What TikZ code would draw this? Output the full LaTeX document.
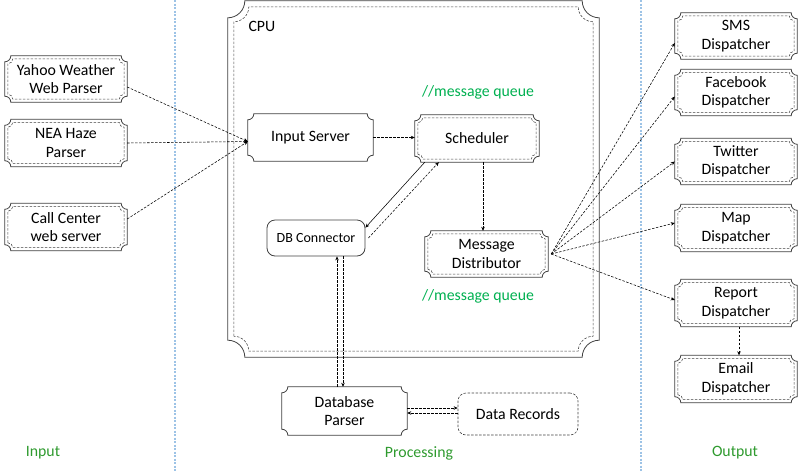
\documentclass[tikz,border=0pt]{standalone}
\usepackage{fontspec}
\setmainfont{Carlito}
\usetikzlibrary{calc,arrows.meta}
\definecolor{boxline}{HTML}{404040}
\definecolor{lblue}{HTML}{9DC3E6}
\definecolor{mqgreen}{HTML}{00B050}
\definecolor{lgreen}{HTML}{2E9A2E}
\newcommand\plaq[4]{%
 \draw[#4] ($(#1.south west)+(#2pt,#2pt+#3pt)$)
   -- ($(#1.north west)+(#2pt,-#2pt-#3pt)$) arc[start angle=270,end angle=360,radius=#3pt]
   -- ($(#1.north east)+(-#2pt-#3pt,-#2pt)$) arc[start angle=180,end angle=270,radius=#3pt]
   -- ($(#1.south east)+(-#2pt,#2pt+#3pt)$) arc[start angle=90,end angle=180,radius=#3pt]
   -- ($(#1.south west)+(#2pt+#3pt,#2pt)$) arc[start angle=0,end angle=90,radius=#3pt]
   -- cycle;}
\tikzset{
 box/.style={inner sep=0pt, align=center, font=\fontsize{15.8}{18.5}\selectfont, minimum width=122pt, minimum height=46pt},
 outerline/.style={draw=boxline, line width=0.8pt},
 innerline/.style={draw=boxline, line width=0.55pt, dash pattern=on 2.5pt off 1.5pt},
 conn/.style={line width=0.55pt, dash pattern=on 2.5pt off 1.5pt, -{Stealth[length=4pt,width=3.5pt]}},
 solidconn/.style={line width=0.55pt, -{Stealth[length=4pt,width=3.5pt]}},
 sep/.style={draw=lblue, line width=1.2pt, dash pattern=on 2pt off 1.5pt},
 lbl/.style={font=\fontsize{15.8}{18.5}\selectfont, text=lgreen},
 mq/.style={font=\fontsize{15.8}{18.5}\selectfont, text=mqgreen},
}
\begin{document}
\begin{tikzpicture}[x=1pt,y=-1pt]
\useasboundingbox (0,0) rectangle (800,472);
% separators
\coordinate (s1t) at (175,0); \coordinate (s1b) at (175,472);
\coordinate (s2t) at (641,0); \coordinate (s2b) at (641,472);
\draw[sep] (s1t) -- (s1b);
\draw[sep] (s2t) -- (s2b);
% CPU
\node[box, minimum width=371pt, minimum height=356pt] (cpu) at (413.5,179) {};
\plaq{cpu}{0}{17}{outerline}
\plaq{cpu}{6}{15}{innerline}
\node[anchor=west, font=\fontsize{15.8}{18.5}\selectfont] (cpulbl) at (245,26) {CPU};
% input side
\node[box] (yahoo) at (66,79) {Yahoo Weather\\Web Parser};
\node[box, minimum height=47pt] (nea) at (66,143) {NEA Haze\\Parser};
\node[box, minimum height=47pt] (call) at (66,227) {Call Center\\web server};
\foreach \n in {yahoo,nea,call} {\plaq{\n}{0}{6}{outerline}\plaq{\n}{3}{5}{innerline}}
% processing
\node[box, minimum width=125pt, minimum height=47pt] (inp) at (310.5,137.5) {Input Server};
\plaq{inp}{0}{6}{outerline}
\node[box, minimum width=124pt, minimum height=47pt] (sched) at (477,138.5) {Scheduler};
\plaq{sched}{0}{6}{outerline}\plaq{sched}{3}{5}{innerline}
\node[box, minimum width=98pt, minimum height=36pt, draw=boxline, line width=0.8pt, rounded corners=8pt, font=\fontsize{14}{16}\selectfont] (dbc) at (316,238) {DB Connector};
\node[box, minimum width=123pt, minimum height=46pt] (md) at (486.5,254) {Message\\Distributor};
\plaq{md}{0}{6}{outerline}\plaq{md}{3}{5}{innerline}
\node[box, minimum width=125pt, minimum height=48pt] (dbp) at (344.5,411) {Database\\Parser};
\plaq{dbp}{0}{6}{outerline}
\node[box, minimum width=120pt, minimum height=42pt, draw=boxline, line width=0.6pt, dash pattern=on 2.5pt off 1.5pt, rounded corners=8pt] (drec) at (518,414) {Data Records};
\node[mq] (mq1) at (478,92) {//message queue};
\node[mq] (mq2) at (478,296) {//message queue};
% output side
\node[box] (sms) at (736,36) {SMS\\Dispatcher};
\node[box] (fb) at (736,92.5) {Facebook\\Dispatcher};
\node[box] (tw) at (736,161.5) {Twitter\\Dispatcher};
\node[box, minimum height=47pt] (map) at (736,228) {Map\\Dispatcher};
\node[box, minimum height=47pt] (rep) at (736,303) {Report\\Dispatcher};
\node[box, minimum height=47pt] (email) at (736,379) {Email\\Dispatcher};
\foreach \n in {sms,fb,tw,map,rep,email} {\plaq{\n}{0}{6}{outerline}\plaq{\n}{3}{5}{innerline}}
% bottom labels
\node[lbl] (linput) at (43,453) {Input};
\node[lbl] (lproc) at (419,453) {Processing};
\node[lbl] (lout) at (735,453) {Output};
% connectors
\draw[conn] ([yshift=-8pt]yahoo.east) -- ([yshift=-4pt]inp.west);
\draw[conn] (nea.east) -- ([yshift=-4pt]inp.west);
\draw[conn] ([yshift=8pt]call.east) -- ([yshift=-4pt]inp.west);
\draw[conn] (inp.east) -- (sched.west |- inp.east);
\draw[solidconn] ([xshift=10pt]sched.south west) -- ([yshift=-8pt]dbc.north east);
\draw[conn] ([xshift=3pt]dbc.east) -- ([xshift=24pt]sched.south west);
\draw[conn] ([xshift=-3.5pt]sched.south -| md.north) -- ([xshift=-3.5pt]md.north);
\draw[conn] ([xshift=-7.5pt]dbp.north) -- ([xshift=21pt]dbc.south);
\draw[conn] ([xshift=27pt]dbc.south) -- ([xshift=-1.5pt]dbp.north);
\draw[conn] ([yshift=3pt]dbp.east) -- ([yshift=6pt]drec.west);
\draw[conn] ([yshift=1pt]drec.west) -- ([yshift=-2pt]dbp.east);
\draw[conn] ([xshift=3pt]md.east) -- ([yshift=-7pt]sms.west);
\draw[conn] ([xshift=3pt]md.east) -- ([yshift=-4pt]fb.west);
\draw[conn] ([xshift=3pt]md.east) -- (tw.west);
\draw[conn] ([xshift=3pt]md.east) -- ([yshift=5pt]map.west);
\draw[conn] ([xshift=3pt]md.east) -- ([yshift=3pt]rep.west);
\draw[conn] ([xshift=3pt]rep.south) -- ([xshift=3pt]email.north);
\end{tikzpicture}
\end{document}
